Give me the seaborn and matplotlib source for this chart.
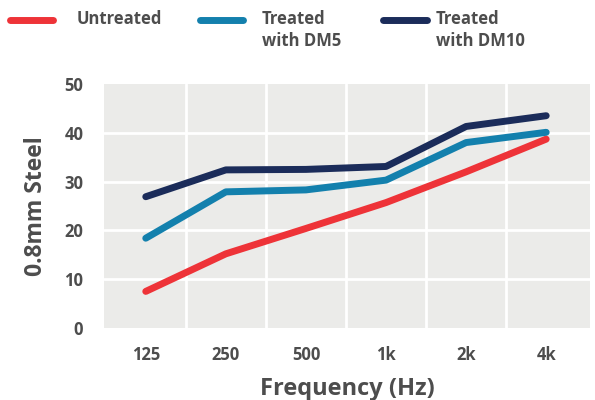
import pandas as pd
import seaborn as sns
import matplotlib.pyplot as plt
from matplotlib.lines import Line2D

# values
frequencies = ["125", "250", "500", "1k", "2k", "4k"]
untreated = [7.5, 15.2, 20.4, 25.7, 32.0, 38.7]
treated_dm5 = [18.4, 27.9, 28.3, 30.3, 38.0, 40.1]
treated_dm10 = [26.9, 32.4, 32.5, 33.1, 41.3, 43.5]
series_names = ["Untreated", "Treated\nwith DM5", "Treated\nwith DM10"]
colors = ["#ee3338", "#1380ad", "#1b2c5a"]
y_ticks = [0, 10, 20, 30, 40, 50]

text_color = "#4d4d4d"

rows = []
for name, vals in zip(series_names, [untreated, treated_dm5, treated_dm10]):
    for f, v in zip(frequencies, vals):
        rows.append({"freq": f, "value": v, "series": name})
df = pd.DataFrame(rows)

sns.set_style("white")
plt.rcParams["font.family"] = ["Open Sans", "DejaVu Sans"]
plt.rcParams["font.weight"] = "bold"

fig = plt.figure(figsize=(5.95, 4.0), dpi=100)
ax = fig.add_axes([0.175, 0.18, 0.817, 0.61])
ax.set_facecolor("#ebebe9")

sns.lineplot(data=df, x="freq", y="value", hue="series", palette=colors,
             linewidth=5, legend=False, ax=ax, sort=False,
             solid_capstyle="round", solid_joinstyle="round")

ax.set_xlim(-0.52, 5.55)
ax.set_ylim(0, 50)
ax.set_yticks(y_ticks)
ax.set_xticks(range(len(frequencies)))
ax.set_xticklabels(frequencies)

# gridlines sit between categories on x
for x in [0.5, 1.5, 2.5, 3.5, 4.5]:
    ax.axvline(x, color="white", lw=2, zorder=1)
for y in y_ticks[1:-1]:
    ax.axhline(y, color="white", lw=2, zorder=1)

for s in ax.spines.values():
    s.set_visible(False)
ax.tick_params(axis="both", length=0, labelsize=12, labelcolor=text_color)
ax.tick_params(axis="y", pad=15)
ax.tick_params(axis="x", pad=13)
for lbl in ax.get_xticklabels() + ax.get_yticklabels():
    lbl.set_fontweight("bold")

ax.set_xlabel("Frequency (Hz)", fontsize=17, fontweight="bold", color=text_color, labelpad=9)
ax.set_ylabel("0.8mm Steel", fontsize=16.5, fontweight="bold", color=text_color, labelpad=12)

# legend drawn across the top
legend_x = [(10, 53, 77), (200, 243, 262), (383, 427, 436)]
W, H = 595.0, 400.0
for (x0, x1, tx), name, c in zip(legend_x, series_names, colors):
    fig.add_artist(Line2D([x0 / W, x1 / W], [1 - 20 / H, 1 - 20 / H], color=c,
                          lw=5, solid_capstyle="round", transform=fig.transFigure))
    fig.text(tx / W, 1 - 10 / H, name, ha="left", va="top", fontsize=12,
             fontweight="bold", color=text_color, linespacing=1.3)

fig.savefig("out.png", dpi=100)
